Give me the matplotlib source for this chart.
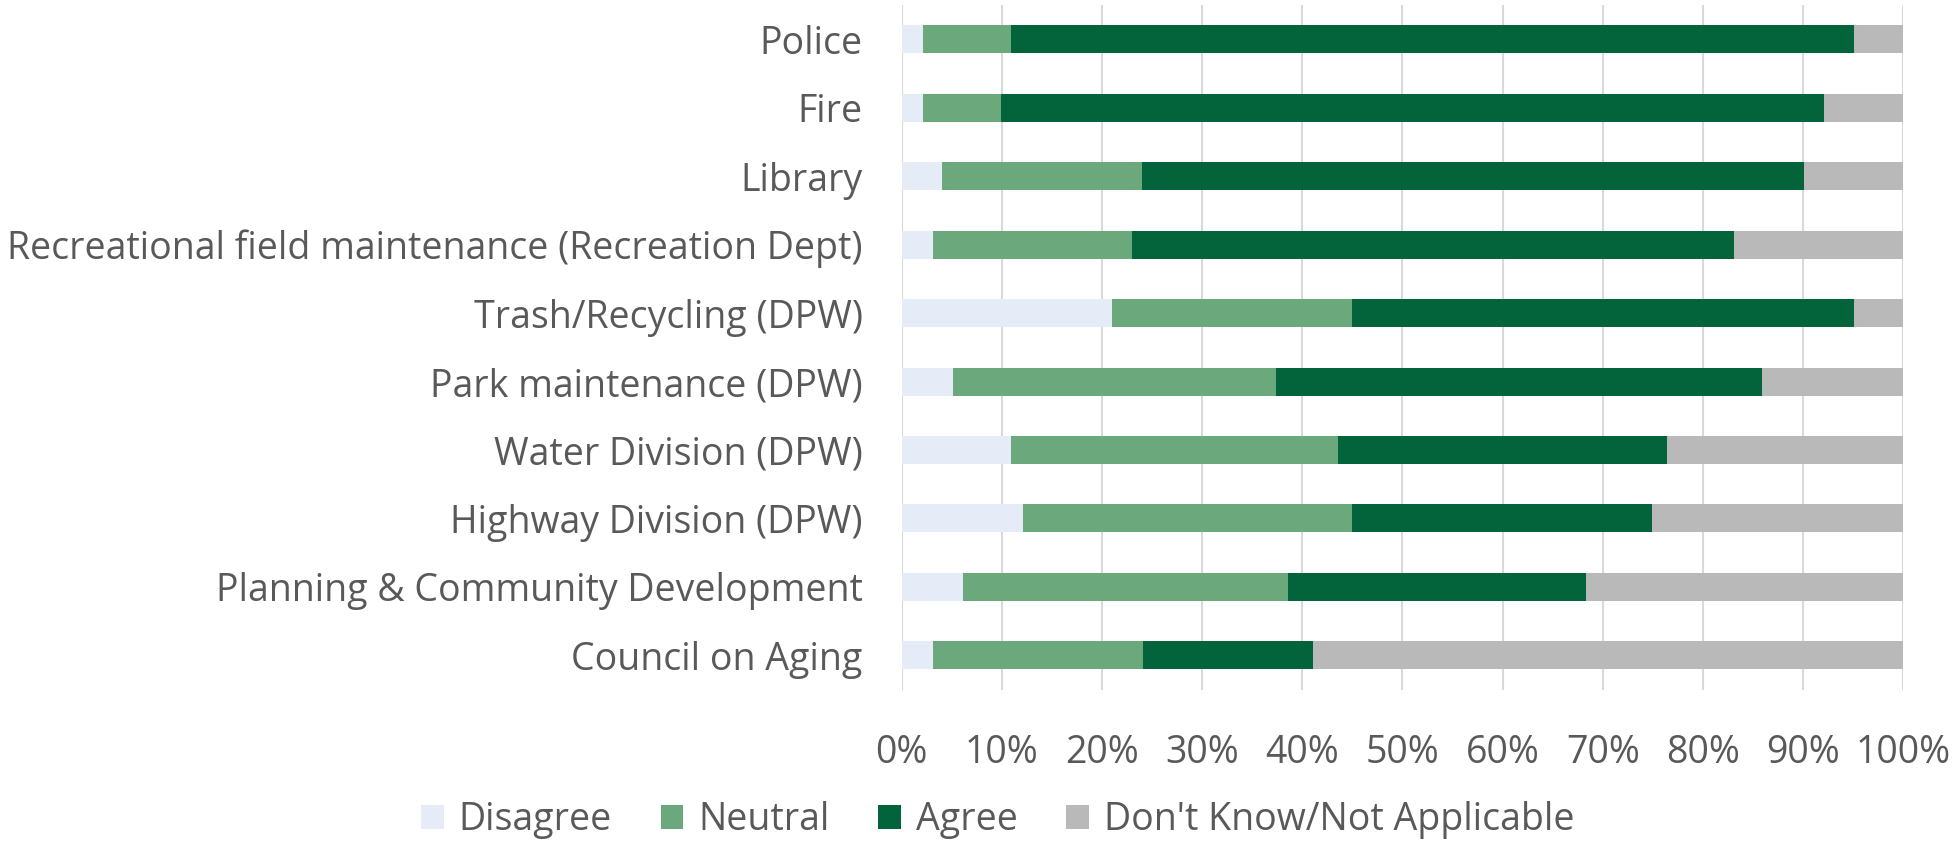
import numpy as np
import matplotlib.pyplot as plt

plt.rcParams['font.family'] = ['Open Sans', 'DejaVu Sans']

categories = ['Police', 'Fire', 'Library',
              'Recreational field maintenance (Recreation Dept)',
              'Trash/Recycling (DPW)', 'Park maintenance (DPW)',
              'Water Division (DPW)', 'Highway Division (DPW)',
              'Planning & Community Development', 'Council on Aging']
disagree = [2.1, 2.1, 4.0, 3.1, 21.0, 5.1, 10.9, 12.1, 6.1, 3.1]
neutral = [8.8, 7.8, 20.0, 19.9, 24.0, 32.3, 32.7, 32.9, 32.5, 21.0]
agree = [84.2, 82.2, 66.1, 60.1, 50.1, 48.5, 32.8, 29.9, 29.7, 17.0]
dont_know = [4.9, 7.9, 9.9, 16.9, 4.9, 14.1, 23.6, 25.1, 31.7, 59.0]

series = [('Disagree', disagree, '#E6ECF7'),
          ('Neutral', neutral, '#6BA87C'),
          ('Agree', agree, '#03643C'),
          ("Don't Know/Not Applicable", dont_know, '#B9B9B9')]

fig = plt.figure(figsize=(19.6, 8.42), dpi=100)
ax = fig.add_axes([0.460, 0.181, 0.511, 0.813])

y = np.arange(len(categories))
left = np.zeros(len(categories))
for name, vals, col in series:
    vals = np.array(vals)
    ax.barh(y, vals, left=left, height=0.41, color=col, label=name, zorder=3)
    left += vals

ax.set_ylim(len(categories) - 0.5, -0.5)
ax.set_xlim(0, 100)
ax.set_xticks(np.arange(0, 101, 10))
ax.set_xticklabels([f'{v}%' for v in range(0, 101, 10)])
ax.set_yticks(y)
ax.set_yticklabels(categories)
ax.grid(axis='x', color='#D9D9D9', linewidth=1.5, zorder=0)
for s in ax.spines.values():
    s.set_visible(False)
ax.tick_params(axis='both', length=0, labelsize=27, labelcolor='#595959')
ax.tick_params(axis='x', pad=32)
ax.tick_params(axis='y', pad=28)

fig.legend(loc='center', bbox_to_anchor=(0.509, 0.026), ncol=4,
           frameon=False, fontsize=27, labelcolor='#595959',
           handlelength=0.6, handleheight=0.6, handletextpad=0.4,
           columnspacing=1.3)

fig.savefig('out.png', dpi=100)
